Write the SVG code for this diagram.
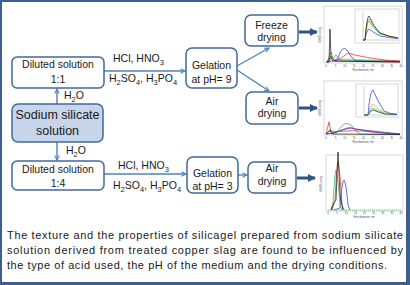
<svg xmlns="http://www.w3.org/2000/svg" width="410" height="285" viewBox="0 0 410 285">
<style>
.box{fill:#fff;stroke:#41689b;stroke-width:1.5}
.src{fill:#c6d5ea;stroke:#41689b;stroke-width:1.5}
.t{font-family:"Liberation Sans",Arial,sans-serif;font-size:10.5px;fill:#1a1a1a}
.tc{text-anchor:middle}
.big{font-size:12.5px}
.cap{font-size:11px}
.con{stroke:#4f81bd;stroke-width:1.4;fill:none}
.thick{stroke:#2f5386;stroke-width:3;fill:none}
.frame{fill:#fff;stroke:#bdbdbd;stroke-width:0.6}
.ax{stroke:#888;stroke-width:0.4;fill:none}
.tiny{font-family:"Liberation Sans",Arial,sans-serif;font-size:2.6px;fill:#444}
.c{fill:none;stroke-width:0.7}
</style>
<defs>
<marker id="open" viewBox="0 0 8 8" refX="7" refY="4" markerWidth="6" markerHeight="6" markerUnits="userSpaceOnUse" orient="auto">
<path d="M1,1 L7,4 L1,7" fill="none" stroke="#4f81bd" stroke-width="1.4"/>
</marker>
<marker id="solid" viewBox="0 0 10 10" refX="9" refY="5" markerWidth="8" markerHeight="8" markerUnits="userSpaceOnUse" orient="auto">
<path d="M0,0 L10,5 L0,10 Z" fill="#2f5386"/>
</marker>
</defs>
<rect x="0" y="0" width="410" height="285" fill="#3d5f8f"/>
<rect x="2" y="2" width="404" height="280" fill="#fff"/>

<g id="connectors">
<line class="con" x1="104" y1="71" x2="185" y2="71" marker-end="url(#open)"/>
<line class="con" x1="57" y1="104" x2="57" y2="89" marker-end="url(#open)"/>
<line class="con" x1="57" y1="142" x2="57" y2="160" marker-end="url(#open)"/>
<line class="con" x1="104" y1="174" x2="186" y2="174" marker-end="url(#open)"/>
<line class="con" x1="237" y1="66" x2="269" y2="48" marker-end="url(#open)"/>
<line class="con" x1="237" y1="70" x2="269" y2="91" marker-end="url(#open)"/>
<line class="con" x1="238" y1="175" x2="247" y2="175" marker-end="url(#open)"/>
<line class="thick" x1="299" y1="32" x2="317" y2="32" marker-end="url(#solid)"/>
<line class="thick" x1="299" y1="108" x2="317" y2="108" marker-end="url(#solid)"/>
<line class="thick" x1="297" y1="178" x2="315" y2="178" marker-end="url(#solid)"/>
<text class="t" x="64" y="99">H<tspan dy="2.5" font-size="7.5">2</tspan><tspan dy="-2.5">O</tspan></text>
<text class="t" x="113" y="62">HCl, HNO<tspan dy="2.5" font-size="7.5">3</tspan></text>
<text class="t" x="109" y="82">H<tspan dy="2.5" font-size="7.5">2</tspan><tspan dy="-2.5">SO</tspan><tspan dy="2.5" font-size="7.5">4</tspan><tspan dy="-2.5">, H</tspan><tspan dy="2.5" font-size="7.5">3</tspan><tspan dy="-2.5">PO</tspan><tspan dy="2.5" font-size="7.5">4</tspan></text>
<text class="t" x="66" y="154">H<tspan dy="2.5" font-size="7.5">2</tspan><tspan dy="-2.5">O</tspan></text>
<text class="t" x="118" y="169">HCl, HNO<tspan dy="2.5" font-size="7.5">3</tspan></text>
<text class="t" x="113" y="189">H<tspan dy="2.5" font-size="7.5">2</tspan><tspan dy="-2.5">SO</tspan><tspan dy="2.5" font-size="7.5">4</tspan><tspan dy="-2.5">, H</tspan><tspan dy="2.5" font-size="7.5">3</tspan><tspan dy="-2.5">PO</tspan><tspan dy="2.5" font-size="7.5">4</tspan></text>
</g>

<g id="diluted11">
<rect class="box" x="12" y="57" width="92" height="31" rx="5"/>
<text class="t tc" x="58" y="68">Diluted solution</text>
<text class="t tc" x="58" y="83">1:1</text>
</g>
<g id="sodium">
<rect class="src" x="12" y="104" width="91" height="38" rx="6"/>
<text class="t tc big" x="57.5" y="119">Sodium silicate</text>
<text class="t tc big" x="57.5" y="135">solution</text>
</g>
<g id="diluted14">
<rect class="box" x="12" y="161" width="92" height="29" rx="5"/>
<text class="t tc" x="58" y="173">Diluted solution</text>
<text class="t tc" x="58" y="187">1:4</text>
</g>
<g id="gel9">
<rect class="box" x="186" y="48" width="51" height="40" rx="6"/>
<text class="t tc" x="211.5" y="69">Gelation</text>
<text class="t tc" x="211.5" y="83">at pH= 9</text>
</g>
<g id="freeze">
<rect class="box" x="245" y="15" width="53" height="31" rx="6"/>
<text class="t tc" x="271.5" y="29">Freeze</text>
<text class="t tc" x="271.5" y="41">drying</text>
</g>
<g id="air1">
<rect class="box" x="246" y="92" width="52" height="32" rx="6"/>
<text class="t tc" x="272" y="105">Air</text>
<text class="t tc" x="272" y="117">drying</text>
</g>
<g id="gel3">
<rect class="box" x="187" y="157" width="51" height="36" rx="6"/>
<text class="t tc" x="212.5" y="177">Gelation</text>
<text class="t tc" x="212.5" y="190">at pH= 3</text>
</g>
<g id="air3">
<rect class="box" x="248" y="162" width="48" height="31" rx="6"/>
<text class="t tc" x="272" y="172">Air</text>
<text class="t tc" x="272" y="185">drying</text>
</g>

<g id="chart1">
<rect class="frame" x="324" y="6" width="78" height="57"/>
<text class="tiny tc" transform="translate(321,35) rotate(-90)">dV/dD, cm³/g</text>
<g class="tiny tc"><text x="326" y="66.5">0</text><text x="335.4" y="66.5">5</text><text x="344.8" y="66.5">10</text><text x="354.1" y="66.5">15</text><text x="363.5" y="66.5">20</text><text x="372.9" y="66.5">25</text><text x="382.2" y="66.5">30</text><text x="391.6" y="66.5">35</text><text x="401" y="66.5">40</text></g>
<text class="tiny tc" x="363" y="70.5">Pore diameter, nm</text>
<path class="c" stroke="#e5a020" d="M327,62 L331,57 L334,60 L345,59 L370,60 L400,61"/>
<path class="c" stroke="#7030a0" d="M327,62 L332,58 L335,61 L360,61.5 L400,62"/>
<path class="c" stroke="#22b14c" d="M327,62 L331,52 L333,58 L336,55 L340,60 L380,61 L400,61.5"/>
<path class="c" stroke="#e02020" d="M327,62 L331,56 L335,61 Q342,58 348,53 Q360,57 385,60 L400,61"/>
<path class="c" stroke="#2030d0" d="M327,62 L333,61 Q338,60 340,53 Q343,46 347,50 Q351,58 356,61 L400,61.5"/>
<path class="c" stroke="#111" d="M326,62 L329,62 L330,29 L331,58 L333,61 L400,62"/>
<rect class="frame" x="355" y="9" width="44" height="34"/>
<path class="ax" d="M363,11 L363,40 L398,40"/>
<path class="c" stroke="#2030d0" d="M363,40 L365,40 Q367,29 369,29 Q373,32 380,36 Q390,38 398,38.5"/>
<path class="c" stroke="#22b14c" d="M363,40 L365,40 Q367,21 369,21 Q373,28 380,34 Q390,37 398,38"/>
<path class="c" stroke="#c0b020" d="M363,40 L365,40 Q367,19 369,19 Q373,27 380,33 Q390,37 398,38"/>
<path class="c" stroke="#111" d="M363,40 L365,40 Q367,16 369,16 Q373,26 380,33 Q390,37 398,38"/>
</g>

<g id="chart2">
<rect class="frame" x="324" y="81" width="78" height="54"/>
<text class="tiny tc" transform="translate(321,108) rotate(-90)">dV/dD, cm³/g</text>
<g class="tiny tc"><text x="326" y="138.5">0</text><text x="335.4" y="138.5">5</text><text x="344.8" y="138.5">10</text><text x="354.1" y="138.5">15</text><text x="363.5" y="138.5">20</text><text x="372.9" y="138.5">25</text><text x="382.2" y="138.5">30</text><text x="391.6" y="138.5">35</text><text x="401" y="138.5">40</text></g>
<text class="tiny tc" x="363" y="142.5">Pore diameter, nm</text>
<path class="c" stroke="#e02020" d="M326,134 L329,122 L331,132 L345,131 Q360,130 380,133 L400,134"/>
<path class="c" stroke="#22b14c" d="M326,134 L331,130 L336,133 Q340,128 344,124 Q348,122 352,126 Q356,132 360,134 L400,134.5"/>
<path class="c" stroke="#2030d0" d="M326,134 L333,133 Q340,131 346,129 Q350,127 355,129 Q370,132 390,133.5 L400,134"/>
<path class="c" stroke="#7030a0" d="M326,134 L334,133 Q341,130 347,128 Q351,127 356,129 Q372,131 392,133 L400,134"/>
<path class="c" stroke="#111" d="M326,134 L330,130 L332,134 L400,134.5"/>
<rect class="frame" x="356" y="84" width="42" height="33"/>
<path class="ax" d="M364,86 L364,115 L397,115"/>
<path class="c" stroke="#111" d="M364,115 L368,115 Q371,110 373,110 Q378,112 385,114 L397,114.5"/>
<path class="c" stroke="#22b14c" d="M364,115 L368,115 Q371,108 373,108 Q378,111 385,113.5 L397,114.5"/>
<path class="c" stroke="#e5a020" d="M364,115 L368,115 Q371,104 373,104 Q378,109 385,113 L397,114"/>
<path class="c" stroke="#2030d0" d="M364,115 L368,115 Q370,90 373,90 Q377,100 384,111 Q390,114 397,114.5"/>
</g>

<g id="chart3">
<rect class="frame" x="326" y="155" width="77" height="56"/>
<text class="tiny tc" transform="translate(322,184) rotate(-90)">dV/dD, cm³/g</text>
<g class="tiny tc"><text x="328" y="214">0</text><text x="337.1" y="214">5</text><text x="346.3" y="214">10</text><text x="355.4" y="214">15</text><text x="364.5" y="214">20</text><text x="373.6" y="214">25</text><text x="382.8" y="214">30</text><text x="391.9" y="214">35</text><text x="401" y="214">40</text></g>
<text class="tiny tc" x="364" y="218">Pore diameter, nm</text>
<path class="c" stroke="#22b14c" stroke-dasharray="1.2,0.8" d="M328,210 L401,210"/>
<path class="c" stroke="#2030d0" d="M334,210 L340,208 Q342,180 344,180 Q346,182 348,205 L350,210"/>
<path class="c" stroke="#22b14c" d="M331,210 L333,202 Q335,170 336,170 Q338,178 340,205 L342,210"/>
<path class="c" stroke="#e02020" d="M332,210 L335,200 Q337,162 338,162 Q340,170 342,205 L344,210"/>
<path class="c" stroke="#111" d="M331,210 L334,203 L336,200 L338,152 L340,195 L343,210"/>
</g>

<g id="caption">
<text class="t cap" x="7" y="239" textLength="396" lengthAdjust="spacing">The texture and the properties of silicagel prepared from sodium silicate</text>
<text class="t cap" x="7" y="254" textLength="396" lengthAdjust="spacing">solution derived from treated copper slag are found to be influenced by</text>
<text class="t cap" x="7" y="269" textLength="380" lengthAdjust="spacing">the type of acid used, the pH of the medium and the drying conditions.</text>
</g>
</svg>
